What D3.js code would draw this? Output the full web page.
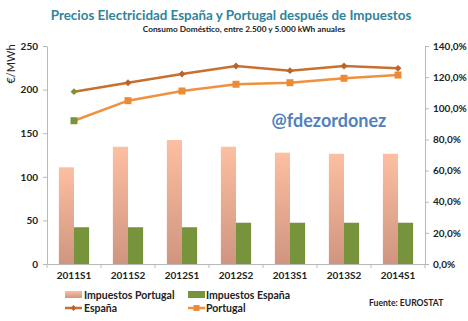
<!DOCTYPE html>
<html>
<head>
<meta charset="utf-8">
<script src="https://cdn.jsdelivr.net/npm/d3@7"></script>
<style>
  body { margin: 0; background: #fff; }
  svg { font-family: Lato, "Open Sans", sans-serif; }
</style>
</head>
<body>
<div id="chart"></div>
<script>
// periods (semesters)
const periods = ["2011S1", "2011S2", "2012S1", "2012S2", "2013S1", "2013S2", "2014S1"];

// prices after taxes, €/MWh (left axis)
const precioEspana   = [197.6, 207.9, 217.9, 227.1, 221.7, 227.1, 224.4];
const precioPortugal = [164.3, 187.3, 198.4, 206.1, 207.9, 213.0, 216.7];

// tax share, % (right axis)
const impuestosPortugal = [62.1, 75.3, 79.6, 75.3, 71.5, 70.8, 70.8];
const impuestosEspana   = [23.6, 23.6, 23.6, 26.5, 26.5, 26.5, 26.5];

const leftTicks  = [0, 50, 100, 150, 200, 250];
const rightTicks = [0, 20, 40, 60, 80, 100, 120, 140];

const W = 468, H = 321;
const plotLeft = 47, plotRight = 425, plotTop = 46, plotBottom = 264;

const svg = d3.select("#chart").append("svg")
    .attr("width", W)
    .attr("height", H);

const defs = svg.append("defs");
const grad = defs.append("linearGradient")
    .attr("id", "pinkGrad")
    .attr("x1", 0).attr("y1", 0).attr("x2", 0).attr("y2", 1);
grad.append("stop").attr("offset", "0%").attr("stop-color", "#FDBFA1");
grad.append("stop").attr("offset", "100%").attr("stop-color", "#CF9580");

const x = d3.scaleBand().domain(periods).range([plotLeft, plotRight]);
const yL = d3.scaleLinear().domain([0, 250]).range([plotBottom, plotTop]);
const yR = d3.scaleLinear().domain([0, 140]).range([plotBottom, plotTop]);

const barW = x.bandwidth() * 0.28;
const cx = d => x(d) + x.bandwidth() / 2;

// titles
svg.append("text")
    .attr("x", 231).attr("y", 20)
    .attr("text-anchor", "middle")
    .attr("font-size", 13.4)
    .attr("font-weight", "bold")
    .attr("fill", "#31849B")
    .text("Precios Electricidad España y Portugal después de Impuestos");

svg.append("text")
    .attr("x", 244).attr("y", 32)
    .attr("text-anchor", "middle")
    .attr("font-size", 8.3)
    .attr("font-weight", "bold")
    .attr("fill", "#222")
    .text("Consumo Doméstico,  entre 2.500 y 5.000 kWh anuales");

// bars
svg.append("g").selectAll("rect")
    .data(periods)
    .join("rect")
    .attr("x", d => cx(d) - barW)
    .attr("y", (d, i) => yR(impuestosPortugal[i]))
    .attr("width", barW)
    .attr("height", (d, i) => plotBottom - yR(impuestosPortugal[i]))
    .attr("fill", "url(#pinkGrad)");

svg.append("g").selectAll("rect")
    .data(periods)
    .join("rect")
    .attr("x", d => cx(d))
    .attr("y", (d, i) => yR(impuestosEspana[i]))
    .attr("width", barW)
    .attr("height", (d, i) => plotBottom - yR(impuestosEspana[i]))
    .attr("fill", "#77933C");

// axes
const axisColor = "#B8B8B8";

const gL = svg.append("g")
    .attr("transform", `translate(${plotLeft},0)`)
    .call(d3.axisLeft(yL).tickValues(leftTicks).tickSize(4).tickSizeOuter(0));
const gR = svg.append("g")
    .attr("transform", `translate(${plotRight},0)`)
    .call(d3.axisRight(yR).tickValues(rightTicks).tickSize(4).tickSizeOuter(0)
        .tickFormat(d => d.toFixed(1).replace(".", ",") + "%"));
const gX = svg.append("g")
    .attr("transform", `translate(0,${plotBottom})`)
    .call(d3.axisBottom(x).tickSize(0).tickSizeOuter(0));

[gL, gR, gX].forEach(g => {
  g.select(".domain").attr("stroke", axisColor);
  g.selectAll(".tick line").attr("stroke", axisColor);
  g.selectAll("text")
      .attr("font-family", "Lato, sans-serif")
      .attr("font-size", 10)
      .attr("font-weight", "bold")
      .attr("fill", "#222");
});
gL.selectAll("text").attr("x", -9);
gR.selectAll("text").attr("x", 8);
gX.selectAll("text").attr("dy", "1.15em");

// category boundary ticks
svg.append("g").selectAll("line")
    .data(periods.concat([null]))
    .join("line")
    .attr("x1", (d, i) => plotLeft + i * x.step())
    .attr("x2", (d, i) => plotLeft + i * x.step())
    .attr("y1", plotBottom)
    .attr("y2", plotBottom + 4)
    .attr("stroke", axisColor);

svg.append("text")
    .attr("transform", "translate(15,64) rotate(-90)")
    .attr("text-anchor", "middle")
    .attr("font-size", 11)
    .attr("fill", "#222")
    .text("€/MWh");

// price lines
const line = vals => d3.line()
    .x((d, i) => cx(periods[i]))
    .y(d => yL(d))(vals);

svg.append("path")
    .attr("d", line(precioPortugal))
    .attr("fill", "none")
    .attr("stroke", "#F0913D")
    .attr("stroke-width", 2.5);

svg.append("path")
    .attr("d", line(precioEspana))
    .attr("fill", "none")
    .attr("stroke", "#C8702F")
    .attr("stroke-width", 2.5);

svg.append("g").selectAll("rect")
    .data(precioPortugal)
    .join("rect")
    .attr("x", (d, i) => cx(periods[i]) - 3.5)
    .attr("y", d => yL(d) - 3.5)
    .attr("width", 7)
    .attr("height", 7)
    .attr("fill", (d, i) => i === 0 ? "#77933C" : "#EE8A34");

svg.append("g").selectAll("path")
    .data(precioEspana)
    .join("path")
    .attr("d", d3.symbol(d3.symbolDiamond2, 30))
    .attr("transform", (d, i) => `translate(${cx(periods[i])},${yL(d)})`)
    .attr("fill", (d, i) => i === 0 ? "#77933C" : "#B9652A");

// watermark
svg.append("text")
    .attr("x", 329).attr("y", 127)
    .attr("text-anchor", "middle")
    .attr("font-size", 18)
    .attr("font-weight", "bold")
    .attr("fill", "#4F81BD")
    .text("@fdezordonez");

// legend
const legend = svg.append("g").attr("font-size", 10.5).attr("font-weight", "bold").attr("fill", "#222");

legend.append("rect").attr("x", 65).attr("y", 291).attr("width", 17).attr("height", 7).attr("fill", "url(#pinkGrad)");
legend.append("text").attr("x", 84).attr("y", 298.5).text("Impuestos Portugal");

legend.append("rect").attr("x", 188).attr("y", 291).attr("width", 17).attr("height", 7).attr("fill", "#77933C");
legend.append("text").attr("x", 206).attr("y", 298.5).text("Impuestos España");

legend.append("line").attr("x1", 65).attr("x2", 82).attr("y1", 308).attr("y2", 308)
    .attr("stroke", "#C8702F").attr("stroke-width", 2.5);
legend.append("path").attr("d", d3.symbol(d3.symbolDiamond2, 22))
    .attr("transform", "translate(73.5,308)").attr("fill", "#B9652A");
legend.append("text").attr("x", 84).attr("y", 312).text("España");

legend.append("line").attr("x1", 188).attr("x2", 205).attr("y1", 308).attr("y2", 308)
    .attr("stroke", "#F0913D").attr("stroke-width", 2.5);
legend.append("rect").attr("x", 193.5).attr("y", 305).attr("width", 6).attr("height", 6).attr("fill", "#EE8A34");
legend.append("text").attr("x", 206).attr("y", 312).text("Portugal");

svg.append("text")
    .attr("x", 369).attr("y", 306)
    .attr("font-size", 8.6)
    .attr("font-weight", "bold")
    .attr("fill", "#222")
    .text("Fuente: EUROSTAT");
</script>
</body>
</html>
